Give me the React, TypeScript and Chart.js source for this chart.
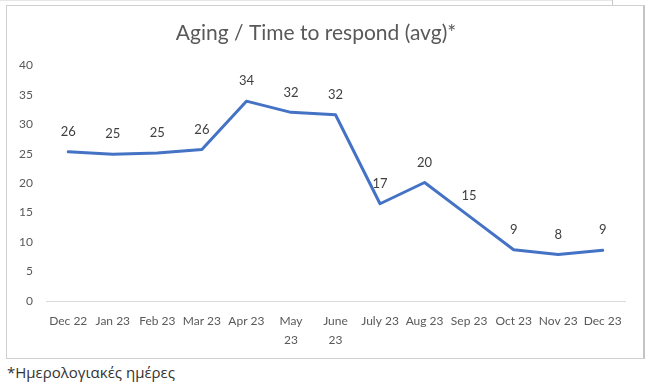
import React, { useEffect, useRef } from "react";
import { Chart, registerables } from "chart.js";

Chart.register(...registerables);

const categories: (string | string[])[] = [
  "Dec 22", "Jan 23", "Feb 23", "Mar 23", "Apr 23", ["May", "23"], ["June", "23"],
  "July 23", "Aug 23", "Sep 23", "Oct 23", "Nov 23", "Dec 23",
];
const agingValues = [25.3, 24.9, 25.1, 25.7, 33.9, 32.0, 31.6, 16.5, 20.1, 14.4, 8.7, 7.9, 8.6];
const dataLabels = ["26", "25", "25", "26", "34", "32", "32", "17", "20", "15", "9", "8", "9"];
const yMin = 0;
const yMax = 40;
const yStep = 5;
const titleText = "Aging / Time to respond (avg)*";
const footnoteText = "*Ημερολογιακές ημέρες";

const labelPlugin = {
  id: "pointValueLabels",
  afterDatasetsDraw(chart: any) {
    const ctx = chart.ctx;
    const meta = chart.getDatasetMeta(0);
    ctx.save();
    ctx.font = "13px Lato";
    ctx.fillStyle = "#404040";
    ctx.textAlign = "center";
    ctx.textBaseline = "middle";
    meta.data.forEach((pt: any, i: number) => {
      ctx.fillText(dataLabels[i], pt.x, pt.y - 20);
    });
    ctx.restore();
  },
};

export default function App() {
  const canvasRef = useRef<HTMLCanvasElement | null>(null);

  useEffect(() => {
    if (!canvasRef.current) return;
    const chart = new Chart(canvasRef.current, {
      type: "line",
      data: {
        labels: categories as any,
        datasets: [
          {
            data: agingValues,
            borderColor: "#4472C4",
            backgroundColor: "#4472C4",
            borderWidth: 3,
            pointRadius: 0,
            tension: 0,
            borderCapStyle: "round",
            borderJoinStyle: "round",
          },
        ],
      },
      options: {
        responsive: false,
        animation: false,
        layout: { padding: { left: 0, right: 18, top: 0, bottom: 0 } },
        plugins: {
          legend: { display: false },
          tooltip: { enabled: false },
          title: {
            display: true,
            text: titleText,
            color: "#595959",
            font: { family: "Lato", size: 21, weight: "normal", lineHeight: 1.2 },
            padding: { top: 15, bottom: 19 },
          },
        },
        scales: {
          x: {
            offset: true,
            grid: { display: false, drawTicks: false },
            border: { display: true, color: "#d9d9d9", width: 1 },
            ticks: {
              color: "#595959",
              font: { family: "Lato", size: 12, lineHeight: 1.55 },
              maxRotation: 0,
              minRotation: 0,
              autoSkip: false,
              padding: 11,
            },
            afterFit: (s: any) => {
              s.height = 57;
            },
          },
          y: {
            min: yMin,
            max: yMax,
            grid: { display: false, drawTicks: false },
            border: { display: false },
            ticks: {
              stepSize: yStep,
              color: "#595959",
              font: { family: "Lato", size: 12 },
              padding: 13,
            },
            afterFit: (s: any) => {
              s.width = 39;
            },
          },
        },
      },
      plugins: [labelPlugin],
    });
    return () => chart.destroy();
  }, []);

  return (
    <div style={{ position: "absolute", left: 0, top: 0, width: 654, height: 385, background: "#fff" }}>
      <div style={{ position: "absolute", left: 0, top: 0, width: 612, height: 1, background: "#e6e6e6" }} />
      <div style={{ position: "absolute", left: 612, top: 0, width: 1, height: 5, background: "#c8c8c8" }} />
      <div
        style={{
          position: "absolute",
          left: 6,
          top: 5,
          width: 636,
          height: 352,
          border: "1px solid #d0d0d0",
          borderRightWidth: 2,
          borderRightColor: "#c4c4c4",
        }}
      >
        <canvas ref={canvasRef} width={636} height={352} style={{ display: "block" }} />
      </div>
      <div
        style={{
          position: "absolute",
          left: 7,
          top: 362,
          fontFamily: "'Open Sans', sans-serif",
          fontSize: 15,
          lineHeight: "20px",
          color: "#333",
          whiteSpace: "nowrap",
        }}
      >
        {footnoteText}
      </div>
    </div>
  );
}
